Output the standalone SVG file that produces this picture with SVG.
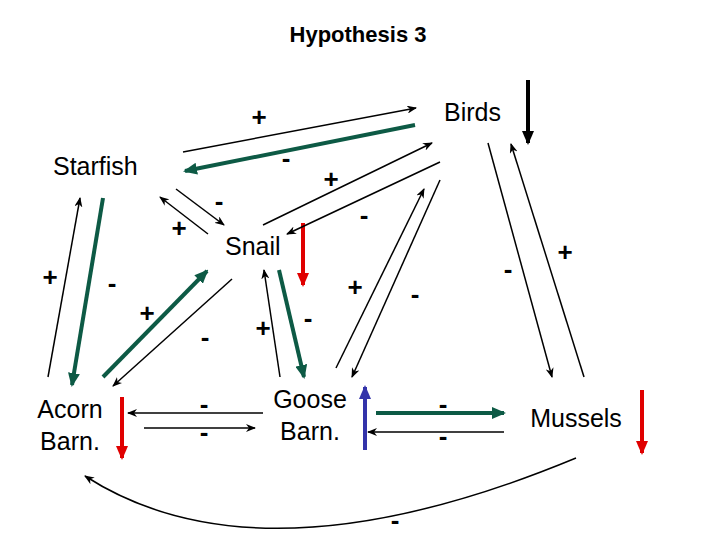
<svg xmlns="http://www.w3.org/2000/svg" width="720" height="540" viewBox="0 0 720 540">
<style>
text{font-family:"Liberation Sans",Arial,sans-serif;fill:#000}
.n{font-size:25px}
.s{font-size:22px;font-weight:bold;text-anchor:middle}
.k{stroke:#000;stroke-width:1.5;fill:none}
.g{stroke:#0d5a45;stroke-width:4;fill:none}
</style>
<defs>
<marker id="ak" markerWidth="10" markerHeight="8" refX="9" refY="4" orient="auto" markerUnits="userSpaceOnUse"><path d="M0,0L10,4L0,8L3,4z" fill="#000"/></marker>
<marker id="ag" markerWidth="14" markerHeight="12" refX="12" refY="6" orient="auto" markerUnits="userSpaceOnUse"><path d="M0,0L14,6L0,12z" fill="#0d5a45"/></marker>
<marker id="ar" markerWidth="14" markerHeight="12" refX="12" refY="6" orient="auto" markerUnits="userSpaceOnUse"><path d="M0,0L14,6L0,12z" fill="#e00000"/></marker>
<marker id="ab" markerWidth="14" markerHeight="12" refX="12" refY="6" orient="auto" markerUnits="userSpaceOnUse"><path d="M0,0L14,6L0,12z" fill="#3333aa"/></marker>
<marker id="ax" markerWidth="14" markerHeight="12" refX="12" refY="6" orient="auto" markerUnits="userSpaceOnUse"><path d="M0,0L14,6L0,12z" fill="#000"/></marker>
</defs>
<text x="358" y="42" class="s">Hypothesis 3</text>
<g id="starfish"><text x="53" y="175" class="n">Starfish</text></g>
<g id="birds"><text x="444" y="121" class="n">Birds</text><line x1="528" y1="80" x2="528" y2="143" stroke="#000" stroke-width="4" marker-end="url(#ax)"/></g>
<g id="snail"><text x="225" y="255" class="n">Snail</text><line x1="303" y1="223" x2="303" y2="285" stroke="#e00000" stroke-width="4" marker-end="url(#ar)"/></g>
<g id="acorn"><text x="70" y="418" class="n" text-anchor="middle">Acorn</text><text x="70" y="450" class="n" text-anchor="middle">Barn.</text><line x1="122" y1="397" x2="122" y2="458" stroke="#e00000" stroke-width="4" marker-end="url(#ar)"/></g>
<g id="goose"><text x="310" y="408" class="n" text-anchor="middle">Goose</text><text x="310" y="440" class="n" text-anchor="middle">Barn.</text><line x1="365" y1="450" x2="365" y2="387" stroke="#3333aa" stroke-width="4" marker-end="url(#ab)"/></g>
<g id="mussels"><text x="576" y="427" class="n" text-anchor="middle">Mussels</text><line x1="642" y1="390" x2="642" y2="453" stroke="#e00000" stroke-width="4" marker-end="url(#ar)"/></g>
<g id="connectors">
<line x1="183" y1="152" x2="416" y2="108" class="k" marker-end="url(#ak)"/>
<line x1="415" y1="125" x2="185" y2="171" class="g" marker-end="url(#ag)"/>
<line x1="176" y1="189" x2="224" y2="225" class="k" marker-end="url(#ak)"/>
<line x1="208" y1="234" x2="160" y2="197" class="k" marker-end="url(#ak)"/>
<line x1="263" y1="225" x2="432" y2="143" class="k" marker-end="url(#ak)"/>
<line x1="440" y1="162" x2="287" y2="234" class="k" marker-end="url(#ak)"/>
<line x1="48" y1="377" x2="80" y2="198" class="k" marker-end="url(#ak)"/>
<line x1="103" y1="198" x2="72" y2="385" class="g" marker-end="url(#ag)"/>
<line x1="103" y1="377" x2="207" y2="271" class="g" marker-end="url(#ag)"/>
<line x1="232" y1="279" x2="113" y2="386" class="k" marker-end="url(#ak)"/>
<line x1="280" y1="377" x2="264" y2="270" class="k" marker-end="url(#ak)"/>
<line x1="279" y1="270" x2="304" y2="377" class="g" marker-end="url(#ag)"/>
<line x1="336" y1="368" x2="424" y2="189" class="k" marker-end="url(#ak)"/>
<line x1="440" y1="180" x2="352" y2="377" class="k" marker-end="url(#ak)"/>
<line x1="488" y1="143" x2="552" y2="377" class="k" marker-end="url(#ak)"/>
<line x1="584" y1="377" x2="511" y2="144" class="k" marker-end="url(#ak)"/>
<line x1="376" y1="413" x2="504" y2="413" class="g" marker-end="url(#ag)"/>
<line x1="504" y1="432" x2="368" y2="432" class="k" marker-end="url(#ak)"/>
<line x1="263" y1="413" x2="128" y2="413" class="k" marker-end="url(#ak)"/>
<line x1="144" y1="428" x2="255" y2="428" class="k" marker-end="url(#ak)"/>
<path d="M576,458 Q260,589 85,476" class="k" marker-end="url(#ak)"/>
</g>
<g font-size="26" font-weight="bold" text-anchor="middle" font-family="Liberation Sans,Arial,sans-serif">
<text x="259" y="126">+</text><text x="286" y="167">-</text><text x="331" y="188">+</text>
<text x="219" y="210">-</text><text x="179" y="237">+</text><text x="364" y="224">-</text>
<text x="50" y="286">+</text><text x="112" y="292">-</text><text x="147" y="322">+</text>
<text x="205" y="346">-</text><text x="263" y="337">+</text><text x="308" y="327">-</text>
<text x="355" y="296">+</text><text x="415" y="303">-</text><text x="508" y="278">-</text>
<text x="565" y="261">+</text><text x="204" y="413">-</text><text x="204" y="441">-</text>
<text x="443" y="413">-</text><text x="443" y="445">-</text><text x="395" y="529">-</text>
</g>
</svg>
